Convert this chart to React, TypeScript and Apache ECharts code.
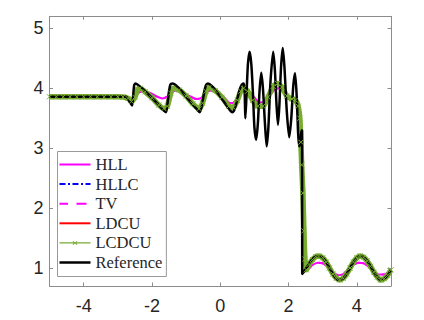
import React, { useEffect, useRef } from "react";
import * as echarts from "echarts";

type P = [number, number];

const xTicks = [-4, -2, 0, 2, 4];
const yTicks = [1, 2, 3, 4, 5];
const seriesNames = ["HLL", "HLLC", "TV", "LDCU", "LCDCU", "Reference"];

const refPts: P[] = [
  [-5, 3.857], [-2.76, 3.857], [-2.7, 3.82], [-2.63, 3.75], [-2.58, 3.71], [-2.55, 3.88], [-2.52, 4.05],
  [-2.48, 4.08], [-2.4, 4.05], [-2.2, 3.95], [-2.0, 3.84], [-1.8, 3.72], [-1.66, 3.63], [-1.59, 3.6],
  [-1.55, 3.72], [-1.5, 3.95], [-1.46, 4.06], [-1.4, 4.08], [-1.3, 4.05], [-1.1, 3.93], [-0.9, 3.79],
  [-0.7, 3.66], [-0.6, 3.6], [-0.55, 3.68], [-0.48, 3.9], [-0.42, 4.05], [-0.36, 4.08], [-0.25, 4.04],
  [-0.05, 3.9], [0.15, 3.74], [0.29, 3.63], [0.35, 3.6], [0.42, 3.65], [0.5, 3.82], [0.57, 3.98],
  [0.63, 4.06], [0.68, 4.08], [0.71, 4.0], [0.725, 3.7], [0.735, 3.5], [0.77, 3.9], [0.81, 4.4],
  [0.86, 4.61], [0.91, 4.4], [0.96, 3.88], [1.0, 3.35], [1.05, 3.14], [1.1, 3.4], [1.15, 3.95],
  [1.2, 4.26], [1.25, 4.0], [1.31, 3.4], [1.36, 3.03], [1.41, 3.35], [1.47, 4.1], [1.55, 4.61],
  [1.6, 4.3], [1.65, 3.7], [1.69, 3.39], [1.73, 3.7], [1.78, 4.35], [1.83, 4.67], [1.88, 4.35],
  [1.95, 3.6], [2.02, 3.18], [2.08, 3.5], [2.14, 4.05], [2.19, 4.25], [2.24, 3.85], [2.28, 3.25],
  [2.31, 3.03], [2.34, 3.07], [2.37, 3.25], [2.395, 3.3], [2.4, 0.9], [2.5, 0.98], [2.6, 1.07],
  [2.7, 1.15], [2.8, 1.195], [2.88, 1.2], [3.0, 1.17], [3.1, 1.1], [3.2, 1.0], [3.3, 0.9],
  [3.4, 0.82], [3.5, 0.8], [3.6, 0.83], [3.7, 0.9], [3.8, 1.0], [3.9, 1.1], [4.0, 1.17],
  [4.1, 1.2], [4.2, 1.18], [4.3, 1.12], [4.4, 1.03], [4.5, 0.93], [4.6, 0.85], [4.7, 0.8],
  [4.8, 0.82], [4.9, 0.88], [5.0, 0.97],
];

const hllPts: P[] = [
  [-5, 3.857], [-2.9, 3.857], [-2.75, 3.85], [-2.62, 3.82], [-2.5, 3.86], [-2.38, 3.93], [-2.25, 3.95],
  [-2.05, 3.92], [-1.85, 3.86], [-1.7, 3.83], [-1.55, 3.86], [-1.42, 3.93], [-1.3, 3.96], [-1.1, 3.93],
  [-0.9, 3.87], [-0.7, 3.82], [-0.55, 3.84], [-0.42, 3.92], [-0.3, 3.96], [-0.1, 3.93], [0.1, 3.85],
  [0.3, 3.75], [0.42, 3.77], [0.55, 3.88], [0.68, 3.95], [0.85, 3.93], [1.0, 3.84], [1.15, 3.76],
  [1.3, 3.78], [1.45, 3.88], [1.6, 3.98], [1.72, 4.0], [1.85, 3.95], [2.0, 3.85], [2.15, 3.8],
  [2.25, 3.72], [2.32, 3.5], [2.37, 2.9], [2.41, 2.2], [2.45, 1.5], [2.5, 1.05], [2.56, 0.98],
  [2.7, 1.05], [2.85, 1.09], [3.0, 1.08], [3.15, 1.02], [3.3, 0.93], [3.45, 0.88], [3.6, 0.9],
  [3.75, 0.97], [3.9, 1.05], [4.05, 1.09], [4.2, 1.08], [4.35, 1.02], [4.5, 0.95], [4.65, 0.89],
  [4.8, 0.89], [4.9, 0.92], [5.0, 0.96],
];

const lcdcuPts: P[] = [
  [-5, 3.857], [-4.8, 3.857], [-4.6, 3.857], [-4.4, 3.857], [-4.2, 3.857], [-4.0, 3.857], [-3.8, 3.857],
  [-3.6, 3.857], [-3.4, 3.857], [-3.2, 3.857], [-3.0, 3.857], [-2.85, 3.855], [-2.7, 3.83], [-2.6, 3.78],
  [-2.5, 3.85], [-2.42, 3.98], [-2.35, 4.0], [-2.2, 3.94], [-2.0, 3.84], [-1.8, 3.72], [-1.65, 3.66],
  [-1.55, 3.7], [-1.45, 3.92], [-1.38, 4.0], [-1.2, 3.97], [-1.0, 3.87], [-0.8, 3.74], [-0.62, 3.66],
  [-0.52, 3.75], [-0.42, 3.95], [-0.33, 4.01], [-0.15, 3.96], [0.05, 3.85], [0.25, 3.7], [0.38, 3.68],
  [0.5, 3.8], [0.6, 3.95], [0.68, 4.0], [0.8, 3.95], [0.95, 3.8], [1.1, 3.7], [1.25, 3.7],
  [1.4, 3.85], [1.55, 4.03], [1.68, 4.08], [1.8, 4.02], [1.95, 3.87], [2.1, 3.82], [2.2, 3.8],
  [2.28, 3.7], [2.33, 3.5], [2.36, 3.1], [2.385, 2.72], [2.42, 2.25], [2.45, 1.62], [2.48, 1.15],
  [2.52, 0.97], [2.6, 1.06], [2.7, 1.14], [2.8, 1.19], [2.88, 1.2], [3.0, 1.17], [3.1, 1.1],
  [3.2, 1.0], [3.3, 0.9], [3.4, 0.83], [3.5, 0.8], [3.6, 0.83], [3.7, 0.9], [3.8, 1.0],
  [3.9, 1.1], [4.0, 1.17], [4.1, 1.2], [4.2, 1.18], [4.3, 1.12], [4.4, 1.03], [4.5, 0.93],
  [4.6, 0.85], [4.7, 0.8], [4.8, 0.82], [4.9, 0.88], [5.0, 0.97],
];

const ldcuPts: P[] = [
  [-5, 3.857], [-2.85, 3.855], [-2.7, 3.83], [-2.6, 3.79], [-2.5, 3.85], [-2.42, 3.97], [-2.35, 3.99],
  [-2.2, 3.94], [-2.0, 3.84], [-1.8, 3.73], [-1.65, 3.68], [-1.55, 3.71], [-1.45, 3.91], [-1.38, 3.99],
  [-1.2, 3.96], [-1.0, 3.87], [-0.8, 3.75], [-0.62, 3.68], [-0.52, 3.76], [-0.42, 3.94], [-0.33, 4.0],
  [-0.15, 3.95], [0.05, 3.85], [0.25, 3.71], [0.38, 3.69], [0.5, 3.8], [0.6, 3.94], [0.68, 3.99],
  [0.8, 3.94], [0.95, 3.8], [1.1, 3.71], [1.25, 3.71], [1.4, 3.85], [1.55, 4.02], [1.68, 4.06],
  [1.8, 4.01], [1.95, 3.87], [2.1, 3.82], [2.2, 3.8], [2.3, 3.6], [2.37, 3.2], [2.4, 2.9],
  [2.43, 2.0], [2.46, 1.2], [2.49, 0.98], [2.6, 1.06], [2.7, 1.14], [2.8, 1.19], [2.88, 1.2],
  [3.0, 1.17], [3.1, 1.1], [3.2, 1.0], [3.3, 0.9], [3.4, 0.83], [3.5, 0.8], [3.6, 0.83],
  [3.7, 0.9], [3.8, 1.0], [3.9, 1.1], [4.0, 1.17], [4.1, 1.2], [4.2, 1.18], [4.3, 1.12],
  [4.4, 1.03], [4.5, 0.93], [4.6, 0.85], [4.7, 0.8], [4.8, 0.82], [4.9, 0.88], [5.0, 0.97],
];

const hllcPts: P[] = ldcuPts;
const tvPts: P[] = hllPts;

const AXIS_COLOR = "#8c8c8c";
const TEXT_COLOR = "#262626";

// legend icons (31px wide, centred by keepAspect)
const ICON_SOLID = "path://M0,0h31v2h-31z";
const ICON_SOLID_THICK = "path://M0,0h31v2.5h-31z";
const ICON_DASHDOT = "path://M0,0h6v2h-6z M8.5,0h2v2h-2z M13,0h6v2h-6z M21.5,0h2v2h-2z M26,0h5v2h-5z";
const ICON_DASH = "path://M0,0h8.5v2h-8.5z M17,0h10v2h-10z M31,0L31,2";
const ICON_CROSS =
  "path://M0,1.3h31v1.4h-31z M13.7,0L15.5,1.5L17.3,0L17.9,0.6L16.1,2L17.9,3.4L17.3,4L15.5,2.5L13.7,4L13.1,3.4L14.9,2L13.1,0.6z";

export default function App() {
  const ref = useRef<HTMLDivElement>(null);
  useEffect(() => {
    if (!ref.current) return;
    const chart = echarts.init(ref.current, undefined, { renderer: "svg" });
    const tickCommon = { show: true, inside: true, length: 3.5, lineStyle: { color: AXIS_COLOR, width: 1 } };
    const lineCommon = { show: true, onZero: false, lineStyle: { color: AXIS_COLOR, width: 1 } };
    const cross = "path://M0,0L10,10M10,0L0,10";
    chart.setOption({
      animation: false,
      backgroundColor: "#ffffff",
      grid: { left: 49.5, right: 33, top: 16.3, bottom: 34, containLabel: false, outerBoundsMode: "none" },
      xAxis: [
        {
          type: "value", min: -5, max: 5, position: "bottom",
          axisLine: lineCommon,
          axisTick: { ...tickCommon, customValues: xTicks },
          axisLabel: { customValues: xTicks, margin: 11, color: TEXT_COLOR, fontSize: 18, fontFamily: "Liberation Sans" },
          splitLine: { show: false },
        },
        {
          type: "value", min: -5, max: 5, position: "top",
          axisLine: lineCommon,
          axisTick: { ...tickCommon, customValues: xTicks },
          axisLabel: { show: false },
          splitLine: { show: false },
        },
      ],
      yAxis: [
        {
          type: "value", min: 0.7, max: 5.2, position: "left",
          axisLine: lineCommon,
          axisTick: { ...tickCommon, customValues: yTicks },
          axisLabel: { customValues: yTicks, margin: 6, color: TEXT_COLOR, fontSize: 18, fontFamily: "Liberation Sans" },
          splitLine: { show: false },
        },
        {
          type: "value", min: 0.7, max: 5.2, position: "right",
          axisLine: lineCommon,
          axisTick: { ...tickCommon, customValues: yTicks },
          axisLabel: { show: false },
          splitLine: { show: false },
        },
      ],
      legend: {
        orient: "vertical",
        left: 57.5,
        top: 151.5,
        padding: [4.5, 4, 5.5, 2],
        itemWidth: 31,
        itemHeight: 14,
        itemGap: 2.6,
        symbolKeepAspect: true,
        backgroundColor: "#ffffff",
        borderColor: "#999999",
        borderWidth: 1,
        borderRadius: 0,
        itemStyle: { borderWidth: 0 },
        textStyle: { fontFamily: "Liberation Serif", fontSize: 16.5, color: TEXT_COLOR },
        data: [
          { name: "HLL", icon: ICON_SOLID },
          { name: "HLLC", icon: ICON_DASHDOT },
          { name: "TV", icon: ICON_DASH },
          { name: "LDCU", icon: ICON_SOLID },
          { name: "LCDCU", icon: ICON_CROSS },
          { name: "Reference", icon: ICON_SOLID_THICK },
        ],
      },
      series: [
        {
          name: seriesNames[0], type: "line", data: hllPts, symbol: "none", smooth: 0.25,
          lineStyle: { color: "#ff00ff", width: 2 }, itemStyle: { color: "#ff00ff" },
        },
        {
          name: seriesNames[1], type: "line", data: hllcPts, symbol: "none", smooth: 0.25,
          lineStyle: { color: "#0000ff", width: 2, type: [6, 3, 2, 3] }, itemStyle: { color: "#0000ff" },
        },
        {
          name: seriesNames[2], type: "line", data: tvPts, symbol: "none", smooth: 0.25,
          lineStyle: { color: "#ff00ff", width: 2, type: [8, 7] }, itemStyle: { color: "#ff00ff" },
        },
        {
          name: seriesNames[3], type: "line", data: ldcuPts, symbol: "none", smooth: 0.25,
          lineStyle: { color: "#ff0000", width: 2 }, itemStyle: { color: "#ff0000" },
        },
        {
          name: seriesNames[4], type: "line", data: lcdcuPts, symbol: cross, symbolSize: 5, showSymbol: true,
          smooth: 0.25,
          lineStyle: { color: "#77ac30", width: 5.5 },
          itemStyle: { color: "#77ac30", borderColor: "#77ac30", borderWidth: 1 },
        },
        {
          name: seriesNames[5], type: "line", data: refPts, symbol: "none", smooth: 0.25,
          lineStyle: { color: "#000000", width: 2.5 }, itemStyle: { color: "#000000" },
        },
      ],
    });
    return () => chart.dispose();
  }, []);
  return <div ref={ref} style={{ width: 424, height: 320, position: "absolute", left: 0, top: 0 }} />;
}
